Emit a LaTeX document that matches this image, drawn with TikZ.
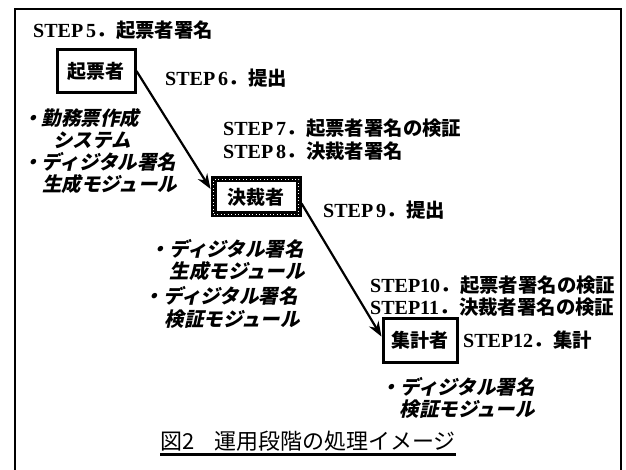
\documentclass[tikz,border=0pt]{standalone}
\usepackage{fontspec}
\setmainfont{Liberation Serif}
\newfontfamily\jp{Noto Sans CJK JP}
\newfontfamily\jpit[FakeSlant=0.22]{Noto Sans CJK JP}
\usetikzlibrary{arrows.meta}
\newcommand\mystep[2]{{\fontsize{20}{22}\selectfont\bfseries STEP#1}\kern0.5pt{\jp\bfseries\fontsize{19.4}{22}\selectfont ．#2}}
\tikzset{
  lbl/.style={anchor=west, inner sep=0pt},
  mod/.style={inner sep=0pt, font=\jpit\bfseries\fontsize{19.5}{22}\selectfont},
  boxA/.style={draw, line width=3pt, inner sep=0pt, font=\jp\bfseries\fontsize{19}{22}\selectfont},
  boxB/.style={draw, line width=6pt, inner sep=0pt, font=\jp\bfseries\fontsize{19}{22}\selectfont,
     postaction={draw=white, line width=0.8pt, dash pattern=on 1pt off 2.5pt}},
  arr/.style={line width=2.2pt, -{Stealth[length=15pt,width=11pt]}},
}
\begin{document}
\begin{tikzpicture}[x=1pt,y=-1pt]
\useasboundingbox (0,0) rectangle (626,470);
% frame
\draw[line width=2.6pt] (15,472) -- (15,9) -- (621,9) -- (621,472);
% step labels
\node[lbl] (s5) at (33,30) {\mystep{\kern3pt 5}{起票者署名}};
\node[lbl] (s6) at (165,78) {\mystep{\kern3pt 6}{提出}};
\node[lbl] (s7) at (223,128) {\mystep{\kern3pt 7}{起票者署名の検証}};
\node[lbl] (s8) at (223,151) {\mystep{\kern3pt 8}{決裁者署名}};
\node[lbl] (s9) at (323,210) {\mystep{\kern3pt 9}{提出}};
\node[lbl] (s10) at (370,285) {\mystep{10}{起票者署名の検証}};
\node[lbl] (s11) at (370,307) {\mystep{11}{決裁者署名の検証}};
\node[lbl] (s12) at (463,340) {\mystep{12}{集計}};
% boxes
\node[boxA, minimum width=78pt, minimum height=43pt] (kihyo) at (96,71) {起票者};
\node[boxB, minimum width=85pt, minimum height=35pt] (kessai) at (256,197) {決裁者};
\node[boxA, minimum width=74pt, minimum height=44pt] (shukei) at (420,340) {集計者};
% arrows
\draw[arr] (kihyo.east) -- (kessai.170);
\draw[arr] (kessai.-8) -- (shukei.175);
% module lists
\node[mod, anchor=west] (m1) at (22,118) {・勤務票作成};
\node[mod, anchor=east] (m2) at (131,140) {システム};
\node[mod, anchor=west] (m3) at (22,162) {・ディジタル署名};
\node[mod, anchor=west] (m4) at (42,184) {生成モジュール};
\node[mod, anchor=east] (m5) at (304,249) {・ディジタル署名};
\node[mod, anchor=east] (m6) at (305,271) {生成モジュール};
\node[mod, anchor=east] (m7) at (298,296) {・ディジタル署名};
\node[mod, anchor=east] (m8) at (300,319) {検証モジュール};
\node[mod, anchor=east] (m9) at (535,387) {・ディジタル署名};
\node[mod, anchor=east] (m10) at (535,409) {検証モジュール};
% caption
\node[lbl, font=\jp\fontsize{22}{26}\selectfont] (cap) at (160,441) {図2\hspace{0.9em}運用段階の処理イメージ};
\draw[line width=2.4pt] ([yshift=-3pt]cap.south west) -- ([yshift=-3pt]cap.south east);
\end{tikzpicture}
\end{document}
